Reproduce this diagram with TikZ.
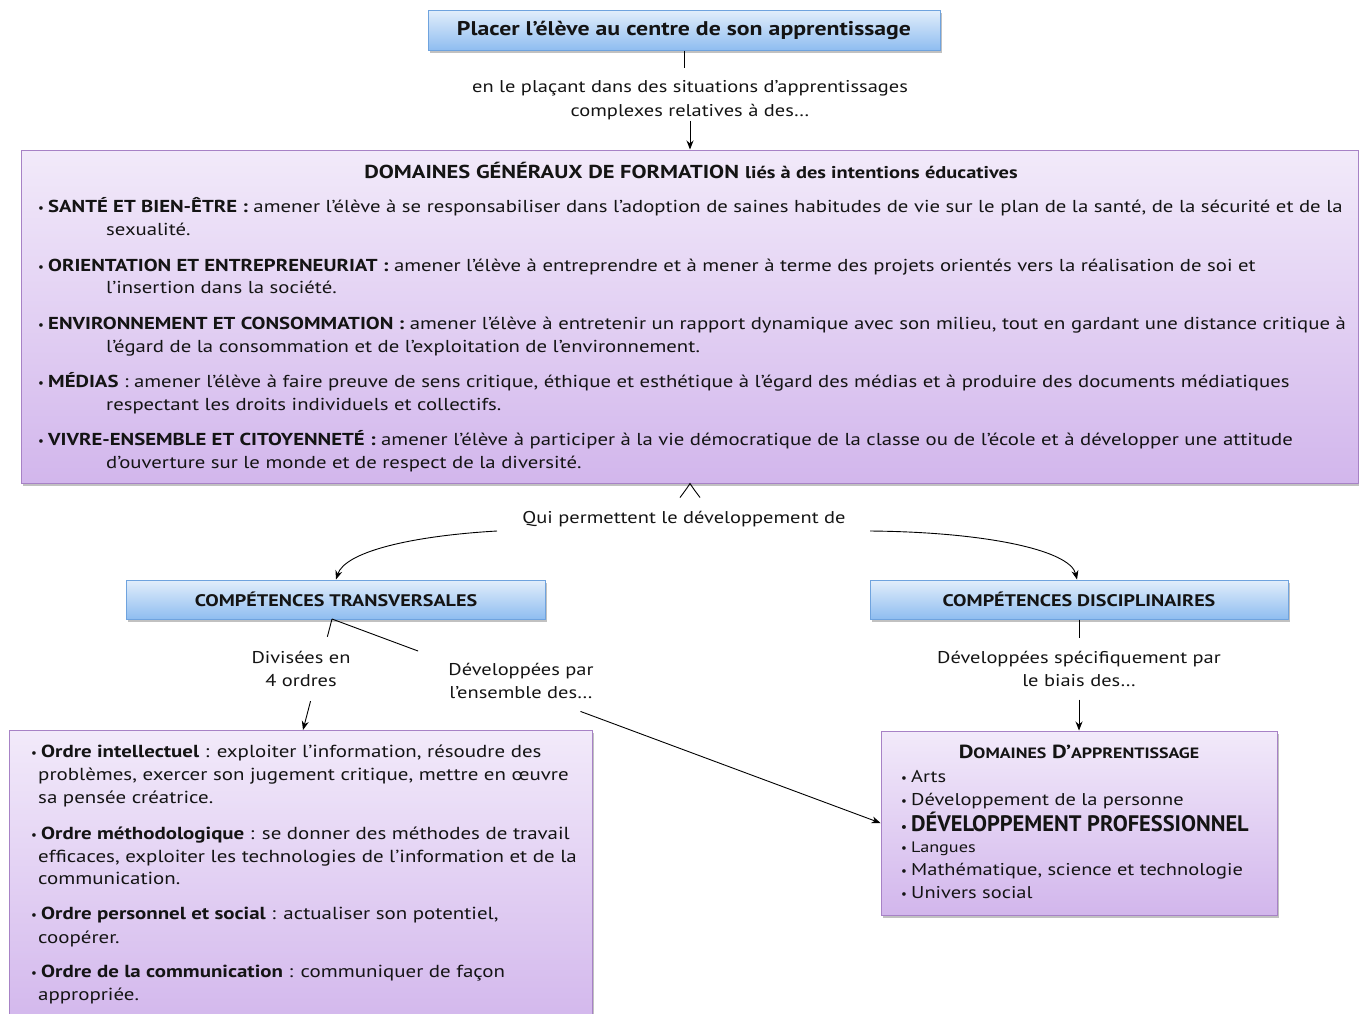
\documentclass[tikz,border=0pt]{standalone}
\usepackage{fontspec}
\setmainfont{PT Sans}[FakeStretch=1.2]
\newfontfamily\plainpt{PT Sans}
\usetikzlibrary{shadows,arrows.meta,calc}
\definecolor{bluetop}{HTML}{E2EEFB}
\definecolor{bluebot}{HTML}{8FBDF0}
\definecolor{blueborder}{HTML}{6FA3DE}
\definecolor{purtop}{HTML}{F2EAFA}
\definecolor{purbot}{HTML}{D2B6EC}
\definecolor{purborder}{HTML}{A782C6}
\definecolor{txt}{HTML}{141414}
\newcommand\bul{\makebox[10bp][l]{{\plainpt\fontsize{13}{13}\selectfont •}}}
\tikzset{
  bluebox/.style={draw=blueborder, line width=1bp, top color=bluetop, bottom color=bluebot,
    drop shadow={shadow xshift=1.5bp, shadow yshift=-2.5bp, opacity=0.35, fill=black!70},
    inner sep=0pt, text=txt},
  purplebox/.style={draw=purborder, line width=1bp, top color=purtop, bottom color=purbot,
    drop shadow={shadow xshift=1.5bp, shadow yshift=-2.5bp, opacity=0.35, fill=black!70},
    inner sep=0pt},
  lab/.style={align=center, font=\fontsize{17.1}{24}\selectfont, text=txt, inner sep=1bp},
  ln/.style={anchor=base west, inner sep=0pt, text=txt, font=\fontsize{17.35}{23}\selectfont},
  lnb/.style={anchor=base west, inner sep=0pt, text=txt, font=\fontsize{17.5}{23}\selectfont},
  lnr/.style={anchor=base west, inner sep=0pt, text=txt, font=\fontsize{17.1}{23}\selectfont},
  con/.style={line width=0.9bp, draw=black},
  arr/.style={con, -{Stealth[length=9bp,width=7bp]}},
}
\begin{document}
\begin{tikzpicture}[x=1bp,y=-1bp]
\useasboundingbox (0,0) rectangle (1359,1013);
% top box
\node[bluebox, minimum width=512bp, minimum height=40bp, font=\fontsize{19.9}{24}\selectfont\bfseries] (top) at (684,30) {Placer l’élève au centre de son apprentissage};
\node[lab] (lab1) at (690,100) {en le plaçant dans des situations d’apprentissages\\complexes relatives à des…};
% big box
\node[purplebox, minimum width=1336bp, minimum height=333bp] (big) at (690,316.5) {};
\node[anchor=base, inner sep=0pt, text=txt, font=\fontsize{18.8}{23}\selectfont] (bigT) at (691,178) {\textbf{DOMAINES GÉNÉRAUX DE FORMATION} {\fontsize{17.1}{20}\selectfont\bfseries liés à des intentions éducatives}};
\node[ln] (g1a) at (38,212) {\bul\textbf{SANTÉ ET BIEN-ÊTRE :} amener l’élève à se responsabiliser dans l’adoption de saines habitudes de vie sur le plan de la santé, de la sécurité et de la};
\node[ln] (g1b) at (106,235) {sexualité.};
\node[ln] (g2a) at (38,271) {\bul\textbf{ORIENTATION ET ENTREPRENEURIAT :} amener l’élève à entreprendre et à mener à terme des projets orientés vers la réalisation de soi et};
\node[ln] (g2b) at (106,293) {l’insertion dans la société.};
\node[ln] (g3a) at (38,329) {\bul\textbf{ENVIRONNEMENT ET CONSOMMATION :} amener l’élève à entretenir un rapport dynamique avec son milieu, tout en gardant une distance critique à};
\node[ln] (g3b) at (106,352) {l’égard de la consommation et de l’exploitation de l’environnement.};
\node[ln] (g4a) at (38,387) {\bul\textbf{MÉDIAS} : amener l’élève à faire preuve de sens critique, éthique et esthétique à l’égard des médias et à produire des documents médiatiques};
\node[ln] (g4b) at (106,410) {respectant les droits individuels et collectifs.};
\node[ln] (g5a) at (38,445) {\bul\textbf{VIVRE-ENSEMBLE ET CITOYENNETÉ :} amener l’élève à participer à la vie démocratique de la classe ou de l’école et à développer une attitude};
\node[ln] (g5b) at (106,468) {d’ouverture sur le monde et de respect de la diversité.};
% middle
\node[lab] (qui) at (684,519) {Qui permettent le développement de};
\node[bluebox, minimum width=418bp, minimum height=39bp, font=\fontsize{16.8}{22}\selectfont\bfseries] (ct) at (336,599.5) {COMPÉTENCES TRANSVERSALES};
\node[bluebox, minimum width=418bp, minimum height=39bp, font=\fontsize{16.8}{22}\selectfont\bfseries] (cd) at (1079,599.5) {COMPÉTENCES DISCIPLINAIRES};
\node[lab] (div) at (301,669) {Divisées en\\4 ordres};
\node[lab] (dev) at (521,681) {Développées par\\l’ensemble des…};
\node[lab] (spe) at (1079,669) {Développées spécifiquement par\\le biais des…};
% bottom boxes
\node[purplebox, minimum width=582bp, minimum height=300bp] (ord) at (301,880) {};
\node[purplebox, minimum width=396bp, minimum height=184bp] (da) at (1079,823) {};
\node[lnb] (o1a) at (31,757) {\bul\textbf{Ordre intellectuel} : exploiter l’information, résoudre des};
\node[lnb] (o1b) at (38,780) {problèmes, exercer son jugement critique, mettre en œuvre};
\node[lnb] (o1c) at (38,803) {sa pensée créatrice.};
\node[lnb] (o2a) at (31,839) {\bul\textbf{Ordre méthodologique} : se donner des méthodes de travail};
\node[lnb] (o2b) at (38,862) {efficaces, exploiter les technologies de l’information et de la};
\node[lnb] (o2c) at (38,884) {communication.};
\node[lnb] (o3a) at (31,919) {\bul\textbf{Ordre personnel et social} : actualiser son potentiel,};
\node[lnb] (o3b) at (38,943) {coopérer.};
\node[lnb] (o4a) at (31,977) {\bul\textbf{Ordre de la communication} : communiquer de façon};
\node[lnb] (o4b) at (38,1000) {appropriée.};
\node[anchor=base, inner sep=0pt, text=txt, font=\bfseries] (daT) at (1079,758) {{\fontsize{19}{22}\selectfont D}{\fontsize{15}{22}\selectfont OMAINES}{\fontsize{19}{22}\selectfont\ D’}{\fontsize{15}{22}\selectfont APPRENTISSAGE}};
\node[lnr] (d1) at (901,782) {\bul Arts};
\node[lnr] (d2) at (901,805) {\bul Développement de la personne};
\node[anchor=base west, inner sep=0pt, text=txt, font=\plainpt\fontsize{22.5}{23}\selectfont\bfseries] (d3) at (901,831) {\bul DÉVELOPPEMENT PROFESSIONNEL};
\node[anchor=base west, inner sep=0pt, text=txt, font=\fontsize{15.2}{23}\selectfont] (d4) at (901,852) {\bul Langues};
\node[lnr] (d5) at (901,875) {\bul Mathématique, science et technologie};
\node[lnr] (d6) at (901,898) {\bul Univers social};
% connectors
\draw[con] (top.south) -- ++(0,17);
\draw[arr] (lab1.south) -- (big.north);
\draw[con] ($(big.south)+(-10,14)$) .. controls ($(big.south)+(-4,6)$) .. (big.south) .. controls ($(big.south)+(4,6)$) .. ($(big.south)+(10,14)$);
\coordinate (quiL) at (497,531);
\coordinate (quiR) at (870,531);
\draw[arr] (quiL) .. controls (410,536) and (345,552) .. (ct.north);
\draw[arr] (quiR) .. controls (985,532) and (1070,550) .. (cd.north -| 1077,0);
\coordinate (ctS) at (332,619);
\coordinate (ordN) at (303,730);
\draw[con] (ctS) -- ($(ctS)!0.16!(ordN)$);
\draw[arr] ($(ctS)!0.74!(ordN)$) -- (ordN);
\draw[con] (ctS) -- ($(ctS)!0.157!(da.west)$);
\draw[arr] ($(ctS)!0.453!(da.west)$) -- (da.west);
\draw[con] (cd.south) -- ++(0,18);
\draw[arr] ($(da.north)+(0,-31)$) -- (da.north);
\end{tikzpicture}
\end{document}
